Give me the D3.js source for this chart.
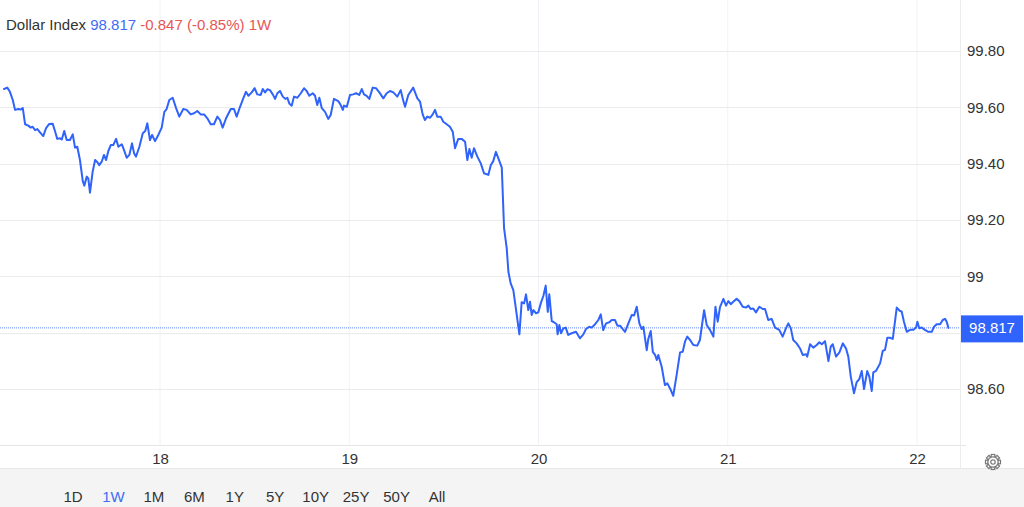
<!DOCTYPE html>
<html><head><meta charset="utf-8">
<script src="https://cdn.jsdelivr.net/npm/d3@7/dist/d3.min.js"></script>
<style>
html,body{margin:0;padding:0;background:#fff;}
svg{display:block;font-family:"Liberation Sans",Arial,sans-serif;}
</style></head><body>
<svg id="chart" width="1024" height="507"></svg>
<script>
// ---- data (day of month, index value) ----
const times = [17.176,17.193,17.207,17.222,17.234,17.251,17.264,17.275,17.287,17.304,17.317,17.327,17.340,17.352,17.366,17.383,17.398,17.415,17.433,17.445,17.457,17.472,17.481,17.494,17.507,17.524,17.539,17.551,17.563,17.577,17.592,17.600,17.613,17.621,17.630,17.644,17.657,17.669,17.679,17.692,17.704,17.715,17.727,17.740,17.753,17.768,17.780,17.798,17.810,17.824,17.838,17.852,17.863,17.873,17.891,17.909,17.922,17.933,17.947,17.958,17.974,17.991,18.009,18.023,18.035,18.049,
18.067,18.085,18.102,18.123,18.141,18.162,18.180,18.197,18.215,18.233,18.250,18.268,18.285,18.303,18.317,18.331,18.349,18.374,18.391,18.405,18.423,18.440,18.454,18.467,18.485,18.500,18.514,18.532,18.543,18.555,18.567,18.581,18.596,18.608,18.620,18.634,18.649,18.662,18.673,18.683,18.696,18.708,18.726,18.744,18.761,18.775,18.789,18.807,18.819,18.831,18.842,18.855,18.872,18.889,18.902,18.919,18.942,18.955,18.966,18.972,18.987,
19.004,19.021,19.036,19.053,19.066,19.078,19.092,19.106,19.124,19.141,19.159,19.180,19.198,19.215,19.233,19.254,19.272,19.286,19.295,19.312,19.338,19.360,19.374,19.388,19.400,19.412,19.427,19.441,19.453,19.465,19.483,19.497,19.515,19.532,19.547,19.559,19.576,19.594,19.612,19.624,19.635,19.647,19.659,19.677,19.695,19.712,19.735,19.748,19.761,19.775,19.788,19.806,19.818,19.832,19.841,19.853,19.867,19.885,19.899,19.911,19.924,19.934,19.946,19.955,19.964,19.973,19.987,19.999,
20.012,20.026,20.038,20.049,20.057,20.070,20.082,20.096,20.101,20.110,20.119,20.131,20.144,20.157,20.175,20.198,20.219,20.237,20.251,20.268,20.281,20.299,20.316,20.329,20.342,20.357,20.374,20.387,20.404,20.417,20.431,20.445,20.457,20.475,20.493,20.505,20.519,20.533,20.545,20.554,20.572,20.580,20.593,20.604,20.616,20.625,20.633,20.651,20.668,20.681,20.695,20.712,20.730,20.748,20.762,20.774,20.786,20.801,20.818,20.839,20.853,20.875,20.889,20.906,20.924,20.935,20.947,20.959,20.977,20.991,
21.003,21.016,21.029,21.047,21.061,21.079,21.097,21.109,21.121,21.135,21.149,21.167,21.185,21.197,21.214,21.232,21.250,21.272,21.290,21.308,21.320,21.333,21.346,21.364,21.382,21.396,21.414,21.420,21.435,21.452,21.470,21.484,21.497,21.514,21.532,21.544,21.555,21.572,21.590,21.608,21.625,21.637,21.650,21.667,21.681,21.695,21.708,21.720,21.737,21.748,21.761,21.769,21.783,21.805,21.819,21.831,21.843,21.857,21.872,21.893,21.910,21.919,21.931,21.946,21.963,21.981,21.995,
22.002,22.012,22.025,22.042,22.060,22.078,22.090,22.104,22.122,22.136,22.148,22.157,22.166];
const values = [99.665,99.670,99.655,99.626,99.591,99.594,99.592,99.597,99.540,99.535,99.528,99.531,99.519,99.523,99.511,99.498,99.526,99.541,99.542,99.516,99.488,99.490,99.486,99.516,99.484,99.484,99.504,99.457,99.460,99.413,99.338,99.322,99.354,99.348,99.297,99.371,99.413,99.405,99.395,99.407,99.431,99.413,99.445,99.466,99.466,99.488,99.460,99.469,99.448,99.421,99.431,99.472,99.437,99.425,99.460,99.508,99.516,99.543,99.484,99.502,99.480,99.502,99.528,99.584,99.594,99.626,
99.634,99.597,99.567,99.594,99.591,99.575,99.579,99.587,99.575,99.575,99.561,99.540,99.540,99.567,99.555,99.528,99.561,99.594,99.594,99.567,99.602,99.632,99.655,99.641,99.653,99.668,99.646,99.644,99.665,99.653,99.664,99.661,99.646,99.630,99.650,99.658,99.638,99.630,99.634,99.614,99.606,99.638,99.634,99.650,99.668,99.658,99.641,99.650,99.641,99.608,99.634,99.597,99.584,99.559,99.573,99.630,99.622,99.608,99.591,99.606,99.602,
99.644,99.646,99.650,99.644,99.665,99.646,99.641,99.630,99.670,99.668,99.653,99.632,99.650,99.658,99.653,99.638,99.661,99.622,99.602,99.644,99.670,99.632,99.620,99.575,99.555,99.567,99.563,99.575,99.591,99.567,99.567,99.549,99.540,99.531,99.513,99.455,99.488,99.488,99.478,99.413,99.452,99.421,99.455,99.425,99.401,99.366,99.360,99.395,99.409,99.442,99.419,99.386,99.171,99.100,99.016,98.975,98.951,98.863,98.794,98.908,98.904,98.936,98.880,98.910,98.863,98.880,98.869,98.872,
98.904,98.931,98.967,98.874,98.936,98.841,98.837,98.830,98.794,98.827,98.798,98.815,98.818,98.792,98.798,98.803,98.780,98.794,98.813,98.821,98.818,98.830,98.845,98.865,98.809,98.833,98.837,98.845,98.845,98.825,98.825,98.813,98.803,98.833,98.863,98.861,98.892,98.833,98.813,98.821,98.738,98.777,98.806,98.732,98.721,98.703,98.721,98.679,98.614,98.620,98.602,98.576,98.650,98.730,98.732,98.768,98.786,98.774,98.756,98.754,98.774,98.880,98.827,98.810,98.786,98.892,98.839,98.891,98.920,98.896,
98.912,98.901,98.910,98.920,98.912,98.892,98.889,98.896,98.884,98.886,98.872,98.892,98.884,98.884,98.845,98.849,98.818,98.810,98.786,98.816,98.833,98.816,98.774,98.762,98.744,98.721,98.723,98.715,98.759,98.747,98.756,98.766,98.759,98.770,98.699,98.750,98.759,98.715,98.730,98.762,98.744,98.715,98.644,98.585,98.624,98.635,98.664,98.600,98.664,98.644,98.593,98.659,98.664,98.691,98.735,98.739,98.782,98.782,98.778,98.889,98.877,98.875,98.839,98.803,98.810,98.810,98.818,
98.839,98.816,98.818,98.810,98.803,98.803,98.821,98.830,98.830,98.845,98.849,98.839,98.817];
const xTickDays = [18,19,20,21,22];
const yTicks = [98.6,98.8,99.0,99.2,99.4,99.6,99.8];
const yTickLabels = ["98.60","98.80","99","99.20","99.40","99.60","99.80"];
const lastValue = 98.817;
const titleParts = [
  {text:"Dollar Index", color:"#333333"},
  {text:" 98.817", color:"#3d6cf5"},
  {text:" -0.847 (-0.85%) 1W", color:"#e85555"}
];
const rangeButtons = ["1D","1W","1M","6M","1Y","5Y","10Y","25Y","50Y","All"];
const activeRange = "1W";

// ---- layout ----
const W = 1024, H = 507;
const plotRight = 960, axisY = 445, barTop = 468;
const FONT = "Liberation Sans, Arial, sans-serif";
const svg = d3.select("#chart");

const x = d3.scaleLinear().domain([18,22]).range([160,917]);
const y = d3.scaleLinear().domain([98.6,99.8]).range([389,51]);

// grid
const grid = svg.append("g");
grid.selectAll("line.v").data(xTickDays).join("line")
  .attr("x1",d=>x(d)).attr("x2",d=>x(d)).attr("y1",0).attr("y2",axisY)
  .attr("stroke","#eef2f8").attr("stroke-width",1);
grid.selectAll("line.h").data(yTicks).join("line")
  .attr("x1",0).attr("x2",plotRight).attr("y1",d=>Math.round(y(d))+0.5).attr("y2",d=>Math.round(y(d))+0.5)
  .attr("stroke","#ebebeb").attr("stroke-width",1);

// axis frame
svg.append("line").attr("x1",0).attr("x2",966).attr("y1",axisY+0.5).attr("y2",axisY+0.5)
  .attr("stroke","#e6e6e6");
svg.append("line").attr("x1",plotRight+0.5).attr("x2",plotRight+0.5).attr("y1",0).attr("y2",barTop)
  .attr("stroke","#ececec");

// y axis labels (the label hidden by the last-price tag is not drawn)
const ly = y(lastValue);
const shownY = yTicks.filter(v=>Math.abs(y(v)-ly)>16);
const yAxis = d3.axisRight(y).tickValues(shownY)
  .tickFormat(d=>yTickLabels[yTicks.indexOf(d)]).tickSize(0).tickPadding(7);
const yg = svg.append("g").attr("transform",`translate(${plotRight},0)`).call(yAxis);
yg.select(".domain").remove();
yg.selectAll("text").attr("font-size",15).attr("fill","#333").attr("font-family",FONT);

// x axis labels
const xAxis = d3.axisBottom(x).tickValues(xTickDays).tickFormat(d3.format("d")).tickSize(0).tickPadding(8);
const xg = svg.append("g").attr("transform",`translate(0,${axisY})`).call(xAxis);
xg.select(".domain").remove();
xg.selectAll("text").attr("font-size",15).attr("fill","#333").attr("font-family",FONT);

// last price dotted line
svg.append("line").attr("x1",0).attr("x2",plotRight).attr("y1",ly).attr("y2",ly)
  .attr("stroke","#3d6cf5").attr("stroke-width",1).attr("stroke-dasharray","1,1").attr("opacity",0.8);

// main line
const data = times.map((t,i)=>({t, v: values[i]}));
svg.append("path").datum(data)
  .attr("fill","none").attr("stroke","#2f63fb").attr("stroke-width",2)
  .attr("stroke-linejoin","round").attr("stroke-linecap","round")
  .attr("d", d3.line().x(d=>x(d.t)).y(d=>y(d.v)));

// price label box
svg.append("rect").attr("x",961).attr("y",ly-12.5).attr("width",62).attr("height",27).attr("fill","#2f63fb");
svg.append("text").attr("x",992).attr("y",ly+1).attr("text-anchor","middle").attr("dominant-baseline","middle")
  .attr("font-size",15).attr("fill","#fff").text(lastValue.toFixed(3));

// title
const title = svg.append("text").attr("x",6).attr("y",30).attr("font-size",15);
titleParts.forEach(p=>title.append("tspan").attr("fill",p.color).text(p.text));

// bottom bar
svg.append("rect").attr("x",0).attr("y",barTop).attr("width",W).attr("height",H-barTop).attr("fill","#f4f4f4");
svg.append("line").attr("x1",0).attr("x2",W).attr("y1",barTop+0.5).attr("y2",barTop+0.5).attr("stroke","#e8e8e8");
const btnX = d3.scalePoint().domain(rangeButtons).range([73,437]);
svg.append("g").selectAll("text").data(rangeButtons).join("text")
  .attr("x",d=>btnX(d)).attr("y",501.5).attr("text-anchor","middle").attr("font-size",15)
  .attr("fill",d=>d===activeRange?"#3d6cf5":"#333").text(d=>d);

// gear icon
const gear = svg.append("g").attr("transform","translate(993,462)");
const teeth = d3.range(8);
gear.selectAll("rect").data(teeth).join("rect")
  .attr("x",-1.8).attr("y",-7.5).attr("width",3.6).attr("height",4).attr("fill","none")
  .attr("stroke","#777").attr("stroke-width",1.2)
  .attr("transform",d=>`rotate(${d*45})`);
gear.append("circle").attr("r",5.2).attr("fill","#fff").attr("stroke","#777").attr("stroke-width",1.3);
gear.append("circle").attr("r",2.2).attr("fill","#fff").attr("stroke","#777").attr("stroke-width",1.2);
</script>
</body></html>
